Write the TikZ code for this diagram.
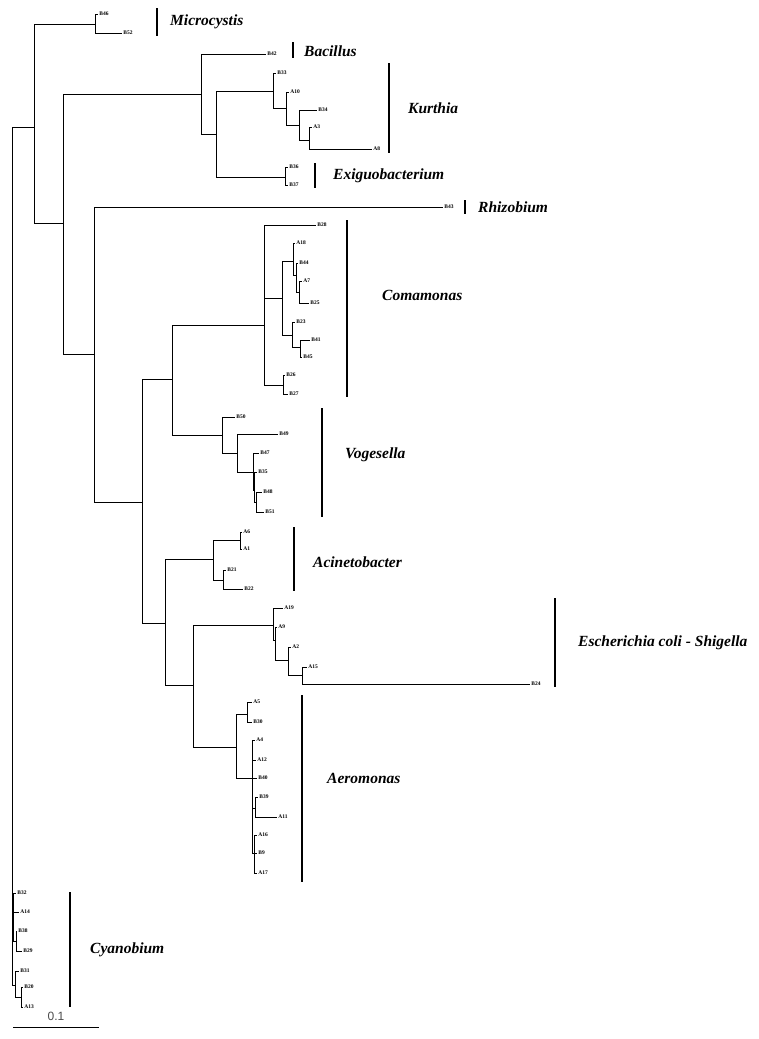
\documentclass[tikz,border=0pt]{standalone}
\usepackage{fontspec}
\setmainfont{Liberation Serif}
\newfontfamily\scalefont{Liberation Sans}
\tikzset{
  branch/.style={line width=0.85pt},
  leaf/.style={anchor=west,inner sep=1.2pt,font=\fontsize{5.5}{6}\selectfont\bfseries},
  genus/.style={anchor=west,inner sep=0pt,font=\fontsize{15.5}{18}\selectfont\bfseries\itshape},
  cladebar/.style={line width=2.6pt},
}
\begin{document}
\begin{tikzpicture}[x=1pt,y=-1pt]
\useasboundingbox[fill=white] (0,0) rectangle (759,1039);

% internal nodes
\coordinate (R) at (12,127);
\coordinate (T) at (34,127);
\coordinate (M) at (95,24);
\coordinate (F0) at (63,223);
\coordinate (Fi) at (201,94);
\coordinate (Fk) at (216,134);
\coordinate (Ku) at (273,91);
\coordinate (Ku2) at (286,108);
\coordinate (Ku3) at (299,125);
\coordinate (Ku4) at (309,140);
\coordinate (Ex) at (285,177);
\coordinate (P) at (94,354);
\coordinate (Q) at (142,502);
\coordinate (CV) at (172,379);
\coordinate (Co) at (264,325);
\coordinate (I) at (282,298);
\coordinate (I1) at (293,261);
\coordinate (I1b) at (296,275);
\coordinate (I1c) at (299,292);
\coordinate (I2) at (292,335);
\coordinate (I2b) at (300,347);
\coordinate (BB) at (283,385);
\coordinate (V) at (222,435);
\coordinate (V2) at (237,453);
\coordinate (V3) at (253,472);
\coordinate (V4) at (254,490);
\coordinate (V5) at (256,502);
\coordinate (X) at (165,623);
\coordinate (Ac) at (213,559);
\coordinate (Ac1) at (240,540);
\coordinate (Ac2) at (223,580);
\coordinate (EA) at (193,685);
\coordinate (Es) at (273,625);
\coordinate (Es1) at (275,640);
\coordinate (Es2) at (288,660);
\coordinate (Es3) at (302,675);
\coordinate (Ae) at (236,747);
\coordinate (Ae1) at (247,714);
\coordinate (Ae2) at (252,778);
\coordinate (Ae4) at (255,808);
\coordinate (Ae5) at (254,853);
\coordinate (cy0) at (12,950);
\coordinate (cy1) at (13,915);
\coordinate (cy3) at (16,941);
\coordinate (cy2) at (15,985);
\coordinate (cy4) at (21,997);

% leaves
\node[leaf] (B46) at (98,14) {B46};
\node[leaf] (B52) at (122,33) {B52};
\node[leaf] (B42) at (266,54) {B42};
\node[leaf] (B33) at (276,73) {B33};
\node[leaf] (A10) at (289,92) {A10};
\node[leaf] (B34) at (317,110) {B34};
\node[leaf] (A3) at (312,127) {A3};
\node[leaf] (A8) at (372,149) {A8};
\node[leaf] (B36) at (288,167) {B36};
\node[leaf] (B37) at (288,185) {B37};
\node[leaf] (B43) at (443,207) {B43};
\node[leaf] (B28) at (316,225) {B28};
\node[leaf] (A18) at (295,243) {A18};
\node[leaf] (B44) at (298,263) {B44};
\node[leaf] (A7) at (302,281) {A7};
\node[leaf] (B25) at (309,303) {B25};
\node[leaf] (B23) at (295,322) {B23};
\node[leaf] (B41) at (310,340) {B41};
\node[leaf] (B45) at (302,357) {B45};
\node[leaf] (B26) at (285,375) {B26};
\node[leaf] (B27) at (288,394) {B27};
\node[leaf] (B50) at (235,417) {B50};
\node[leaf] (B49) at (278,434) {B49};
\node[leaf] (B47) at (259,453) {B47};
\node[leaf] (B35) at (257,472) {B35};
\node[leaf] (B48) at (262,492) {B48};
\node[leaf] (B51) at (264,512) {B51};
\node[leaf] (A6) at (242,532) {A6};
\node[leaf] (A1) at (242,549) {A1};
\node[leaf] (B21) at (226,570) {B21};
\node[leaf] (B22) at (243,589) {B22};
\node[leaf] (A19) at (283,608) {A19};
\node[leaf] (A9) at (277,627) {A9};
\node[leaf] (A2) at (291,647) {A2};
\node[leaf] (A15) at (307,667) {A15};
\node[leaf] (B24) at (530,684) {B24};
\node[leaf] (A5) at (252,702) {A5};
\node[leaf] (B30) at (252,722) {B30};
\node[leaf] (A4) at (255,740) {A4};
\node[leaf] (A12) at (256,760) {A12};
\node[leaf] (B40) at (257,778) {B40};
\node[leaf] (B39) at (258,797) {B39};
\node[leaf] (A11) at (277,817) {A11};
\node[leaf] (A16) at (257,835) {A16};
\node[leaf] (B9) at (257,853) {B9};
\node[leaf] (A17) at (257,873) {A17};
\node[leaf] (B32) at (16,893) {B32};
\node[leaf] (A14) at (19,912) {A14};
\node[leaf] (B38) at (17,931) {B38};
\node[leaf] (B29) at (22,951) {B29};
\node[leaf] (B31) at (19,971) {B31};
\node[leaf] (B20) at (23,987) {B20};
\node[leaf] (A13) at (23,1007) {A13};

% branches
\draw[branch] (R) |- (T) (R) |- (cy0);
\draw[branch] (T) |- (M) (T) |- (F0);
\draw[branch] (M) |- (B46.west) (M) |- (B52.west);
\draw[branch] (F0) |- (Fi) (F0) |- (P);
\draw[branch] (Fi) |- (B42.west) (Fi) |- (Fk);
\draw[branch] (Fk) |- (Ku) (Fk) |- (Ex);
\draw[branch] (Ku) |- (B33.west) (Ku) |- (Ku2);
\draw[branch] (Ku2) |- (A10.west) (Ku2) |- (Ku3);
\draw[branch] (Ku3) |- (B34.west) (Ku3) |- (Ku4);
\draw[branch] (Ku4) |- (A3.west) (Ku4) |- (A8.west);
\draw[branch] (Ex) |- (B36.west) (Ex) |- (B37.west);
\draw[branch] (P) |- (B43.west) (P) |- (Q);
\draw[branch] (Q) |- (CV) (Q) |- (X);
\draw[branch] (CV) |- (Co) (CV) |- (V);
\draw[branch] (Co) |- (B28.west) (Co) |- (I) (Co) |- (BB);
\draw[branch] (I) |- (I1) (I) |- (I2);
\draw[branch] (I1) |- (A18.west) (I1) |- (I1b);
\draw[branch] (I1b) |- (B44.west) (I1b) |- (I1c);
\draw[branch] (I1c) |- (A7.west) (I1c) |- (B25.west);
\draw[branch] (I2) |- (B23.west) (I2) |- (I2b);
\draw[branch] (I2b) |- (B41.west) (I2b) |- (B45.west);
\draw[branch] (BB) |- (B26.west) (BB) |- (B27.west);
\draw[branch] (V) |- (B50.west) (V) |- (V2);
\draw[branch] (V2) |- (B49.west) (V2) |- (V3);
\draw[branch] (V3) |- (B47.west) (V3) |- (V4);
\draw[branch] (V4) |- (B35.west) (V4) |- (V5);
\draw[branch] (V5) |- (B48.west) (V5) |- (B51.west);
\draw[branch] (X) |- (Ac) (X) |- (EA);
\draw[branch] (Ac) |- (Ac1) (Ac) |- (Ac2);
\draw[branch] (Ac1) |- (A6.west) (Ac1) |- (A1.west);
\draw[branch] (Ac2) |- (B21.west) (Ac2) |- (B22.west);
\draw[branch] (EA) |- (Es) (EA) |- (Ae);
\draw[branch] (Es) |- (A19.west) (Es) |- (Es1);
\draw[branch] (Es1) |- (A9.west) (Es1) |- (Es2);
\draw[branch] (Es2) |- (A2.west) (Es2) |- (Es3);
\draw[branch] (Es3) |- (A15.west) (Es3) |- (B24.west);
\draw[branch] (Ae) |- (Ae1) (Ae) |- (Ae2);
\draw[branch] (Ae1) |- (A5.west) (Ae1) |- (B30.west);
\draw[branch] (Ae2) |- (A4.west) (Ae2) |- (A12.west) (Ae2) |- (B40.west) (Ae2) |- (Ae4) (Ae2) |- (Ae5);
\draw[branch] (Ae4) |- (B39.west) (Ae4) |- (A11.west);
\draw[branch] (Ae5) |- (A16.west) (Ae5) |- (B9.west) (Ae5) |- (A17.west);
\draw[branch] (cy0) |- (cy1) (cy0) |- (cy2);
\draw[branch] (cy1) |- (B32.west) (cy1) |- (A14.west) (cy1) |- (cy3);
\draw[branch] (cy3) |- (B38.west) (cy3) |- (B29.west);
\draw[branch] (cy2) |- (B31.west) (cy2) |- (cy4);
\draw[branch] (cy4) |- (B20.west) (cy4) |- (A13.west);

% clade bars and names
\draw[cladebar] (157,8) -- (157,36);
\node[genus] (microcystis) at (170,22) {Microcystis};
\draw[cladebar] (293,42) -- (293,58);
\node[genus] (bacillus) at (304,51) {Bacillus};
\draw[cladebar] (389,63) -- (389,153);
\node[genus] (kurthia) at (408,108) {Kurthia};
\draw[cladebar] (315,163) -- (315,188);
\node[genus] (exiguo) at (333,176) {Exiguobacterium};
\draw[cladebar] (465,200) -- (465,214);
\node[genus] (rhizobium) at (478,207) {Rhizobium};
\draw[cladebar] (347,220) -- (347,397);
\node[genus] (comamonas) at (382,295) {Comamonas};
\draw[cladebar] (322,408) -- (322,517);
\node[genus] (vogesella) at (345,455) {Vogesella};
\draw[cladebar] (294,527) -- (294,591);
\node[genus] (acineto) at (313,562) {Acinetobacter};
\draw[cladebar] (555,598) -- (555,687);
\node[genus] (escherichia) at (578,643) {Escherichia coli - Shigella};
\draw[cladebar] (302,695) -- (302,882);
\node[genus] (aeromonas) at (327,778) {Aeromonas};
\draw[cladebar] (70,892) -- (70,1007);
\node[genus] (cyanobium) at (90,950) {Cyanobium};

% scale
\coordinate (s0) at (13,1027);
\coordinate (s1) at (99,1027);
\draw[line width=0.9pt] (s0) -- (s1);
\node[font=\scalefont\fontsize{12}{13}\selectfont,text=black!70] (scale) at (56,1016) {0.1};
\end{tikzpicture}
\end{document}
